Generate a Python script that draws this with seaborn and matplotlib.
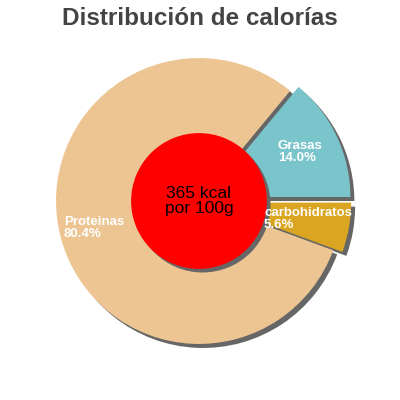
import matplotlib
matplotlib.use("Agg")
import matplotlib.pyplot as plt
import seaborn as sns

labels = ["Grasas", "Proteinas", "carbohidratos"]
values = [14.0, 80.4, 5.6]
colors = ["#7ac4cc", "#edc593", "#daa520"]
explode = [0.065, 0.0, 0.065]
kcal_text = "365 kcal\npor 100g"
title = "Distribución de calorías"

sns.set_style("white")
plt.rcParams['font.family'] = ['Liberation Sans', 'DejaVu Sans']

fig = plt.figure(figsize=(4, 4), dpi=100)
ax = fig.add_axes([0, 0, 1, 1])

noedge = {"linewidth": 0}
shadow = (0.028, -0.028)
# shadow of the outer pie
ax.pie(values, explode=explode, startangle=0, counterclock=True,
       colors=["#666666"] * 3, center=shadow, radius=1.0, wedgeprops=noedge)
wedges, _ = ax.pie(values, explode=explode, startangle=0, counterclock=True,
                   colors=colors, radius=1.0, wedgeprops=noedge)
# shadow + red centre
ax.pie([1], colors=["#666666"], radius=0.475, center=(0.025, -0.025),
       wedgeprops=noedge)
ax.pie([1], colors=["#ff0000"], radius=0.475, wedgeprops=noedge)

label_pos = {"Grasas": (0.552, 0.343), "Proteinas": (-0.944, -0.189),
             "carbohidratos": (0.455, -0.126)}
for lab, v in zip(labels, values):
    x, y = label_pos[lab]
    ax.text(x, y, f"{lab}\n{v:.1f}%", color="white", fontsize=9.5,
            fontweight="bold", ha="left", va="center", linespacing=1.0)

ax.text(0, 0, kcal_text, ha="center", va="center", fontsize=12.5,
        color="black", linespacing=1.0)

ax.set_xlim(-1.392, 1.406)
ax.set_ylim(-1.392, 1.406)
ax.set_aspect("equal")
ax.axis("off")

fig.text(0.5, 0.953, title, ha="center", va="center", fontsize=17.5,
         fontweight="bold", color="#444444")

fig.savefig("out.png", dpi=100)
